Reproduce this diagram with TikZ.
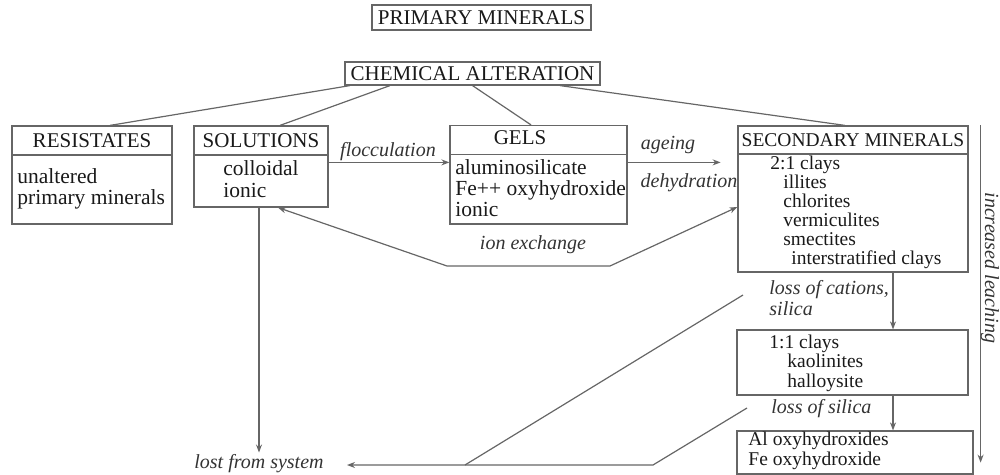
\documentclass[tikz,border=0pt]{standalone}
\usepackage{fontspec}
\setmainfont{Liberation Serif}
\usetikzlibrary{arrows.meta}

\tikzset{
  box/.style = {draw = black!60, line width = 0.6pt, inner sep = 0pt, text = black!90},
  head/.style = {box, font = \fontsize{10.5}{10.5}\selectfont},
  body/.style = {inner sep = 0pt, anchor = base west, align = left, text = black!90},
  lbl/.style = {inner sep = 0pt, anchor = base west, text = black!80, font = \fontsize{10}{10}\selectfont\itshape},
  link/.style = {draw = black!60, line width = 0.6pt},
  arr/.style = {link, -{Stealth[length = 4pt, width = 3pt]}},
  arrs/.style = {link, {Stealth[length = 4pt, width = 3pt]}-{Stealth[length = 4pt, width = 3pt]}}
}

\begin{document}
\begin{tikzpicture}[x = 0.5pt, y = -0.5pt]
    \useasboundingbox (0,0) rectangle (1000,475);

    \node [head, minimum width = 109.5pt, minimum height = 12.5pt] (prim) at (481.5,17.5) {PRIMARY MINERALS};
    \node [head, minimum width = 127.5pt, minimum height = 11.5pt] (chem) at (472.5,73.5) {CHEMICAL ALTERATION};

    % text nodes sit on the baseline of their last line
    \node [head, minimum width = 80pt, minimum height = 14.5pt] (reshead) at (92,140.5) {RESISTATES};
    \node [box, minimum width = 80pt, minimum height = 34.5pt] (resbody) at (92,189.5) {};
    \node [body, font = \fontsize{10.75}{10.5}\selectfont] (restext) at (17,205) {unaltered\\primary minerals};

    \node [head, minimum width = 67pt, minimum height = 14.5pt] (solhead) at (261,140.5) {SOLUTIONS};
    \node [box, minimum width = 67pt, minimum height = 26pt] (solbody) at (261,181) {};
    \node [body, font = \fontsize{10.75}{11}\selectfont] (soltext) at (223,198) {colloidal\\ionic};

    \node [head, minimum width = 88.5pt, minimum height = 14.5pt] (gelshead) at (538.5,140) {};
    \node [head, draw = none, anchor = base] (gelstitle) at (520,145) {GELS};
    \node [box, minimum width = 88.5pt, minimum height = 34.75pt] (gelsbody) at (538.5,189.25) {};
    \node [body, font = \fontsize{10.75}{10.5}\selectfont] (gelstext) at (455,217) {aluminosilicate\\Fe++ oxyhydroxide\\ionic};

    \node [head, font = \fontsize{9.75}{9.75}\selectfont, minimum width = 115pt, minimum height = 14pt] (sechead) at (853,140) {SECONDARY MINERALS};
    \node [box, minimum width = 115pt, minimum height = 59pt] (secbody) at (853,213) {};
    \node [body, font = \fontsize{9.75}{9.5}\selectfont] (sectext) at (770,265) {2:1 clays\\\hspace*{6.5pt}illites\\\hspace*{6.5pt}chlorites\\\hspace*{6.5pt}vermiculites\\\hspace*{6.5pt}smectites\\\hspace*{10.5pt}interstratified clays};

    \node [box, minimum width = 115.5pt, minimum height = 32.5pt] (c11) at (852.5,362.5) {};
    \node [body, font = \fontsize{9.75}{9.75}\selectfont] (c11text) at (769,387) {1:1 clays\\\hspace*{9pt}kaolinites\\\hspace*{9pt}halloysite};

    \node [box, minimum width = 118pt, minimum height = 21.5pt] (oxy) at (855,452.5) {};
    \node [body, font = \fontsize{9.75}{10}\selectfont] (oxytext) at (748,465) {Al oxyhydroxides\\Fe oxyhydroxide};

    \draw [link] ([xshift = -61.25pt]chem.south) -- ([xshift = 9pt]reshead.north);
    \draw [link] ([xshift = -41.25pt]chem.south) -- ([xshift = 9.5pt]solhead.north);
    \draw [link] (chem.south) -- ([xshift = -3.75pt]gelshead.north);
    \draw [link] ([xshift = 43.75pt]chem.south) -- ([xshift = -4pt]sechead.north);

    \coordinate (floc) at ([yshift = -4pt]solbody.north east);
    \draw [arr] (floc) -- (floc -| gelsbody.west);
    \node [lbl, anchor = base] (floclbl) at (388,157) {flocculation};

    \coordinate (age) at ([yshift = -4.25pt]gelsbody.north east);
    \coordinate (ageend) at ([xshift = 46.5pt]age);
    \draw [arr] (age) -- (ageend);
    \node [lbl, anchor = base] (agelbl) at (668,150) {ageing};
    \node [lbl, anchor = base] (dehydlbl) at (689,188) {dehydration};

    \coordinate (ionA) at (447,266);
    \coordinate (ionB) at (610,266);
    \draw [arrs] ([xshift = 8.5pt]solbody.south) -- (ionA) -- (ionB) -- ([yshift = 3pt]secbody.west);
    \node [lbl, anchor = base] (ionlbl) at (533,250) {ion exchange};

    \node [lbl, anchor = base] (lost) at (259,468) {lost from system};
    \draw [arr, shorten > = 0.5pt] (solbody.south -| lost.north) -- (lost.north);

    \coordinate (catTop) at ([xshift = 20pt]secbody.south);
    \draw [arr] (catTop) -- (catTop |- c11.north);
    \node [lbl, align = left, font = \fontsize{10}{7.75}\selectfont\itshape] (catlbl) at (769,315) {loss of cations,\\silica};

    \coordinate (silTop) at (c11.south -| catTop);
    \draw [arr] (silTop) -- (silTop |- oxy.north);
    \node [lbl] (sillbl) at (771,413) {loss of silica};

    % losses leaving the system
    \coordinate (catA) at (743,295);
    \coordinate (catB) at (465,465);
    \coordinate (silA) at (747,408);
    \coordinate (silB) at (653,465);
    \coordinate (lostend) at (347,465);
    \draw [link] (catA) -- (catB);
    \draw [arr] (silA) -- (silB) -- (lostend);

    \coordinate (leachTop) at ([xshift = 6pt]sechead.north east);
    \coordinate (leachEnd) at ([xshift = 3.5pt, yshift = 6pt]oxy.south east);
    \draw [arr] (leachTop) -- (leachEnd);
    \node [lbl, anchor = center, rotate = -90] (leachlbl) at (990,268) {increased leaching};
\end{tikzpicture}
\end{document}
